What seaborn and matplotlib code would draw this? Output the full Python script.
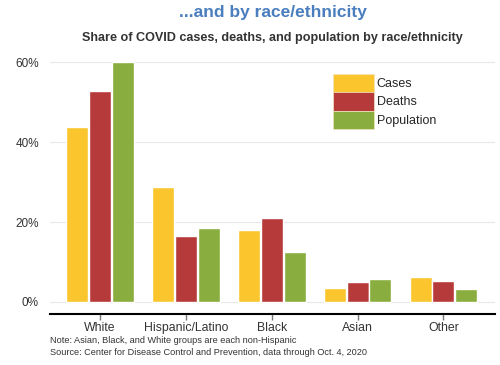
import numpy as np
import pandas as pd
import matplotlib
matplotlib.use("Agg")
import matplotlib.pyplot as plt
import seaborn as sns

#DATA
groups = ["White", "Hispanic/Latino", "Black", "Asian", "Other"]
measures = ["Cases", "Deaths", "Population"]
cases = [43.8, 28.8, 18.0, 3.5, 6.3]
deaths = [52.8, 16.5, 21.0, 5.0, 5.3]
population = [60.0, 18.5, 12.5, 5.8, 3.3]
yticks = [0, 20, 40, 60]
ytick_labels = ["0%", "20%", "40%", "60%"]

df = pd.DataFrame({
    "group": groups * 3,
    "measure": ["Cases"] * 5 + ["Deaths"] * 5 + ["Population"] * 5,
    "share": cases + deaths + population,
})

palette = {"Cases": "#FBC52E", "Deaths": "#B73A3A", "Population": "#8AAD3F"}

sns.set_style("white", {"xtick.bottom": True})
plt.rcParams['font.family'] = ['Liberation Sans', 'DejaVu Sans']
plt.rcParams['xtick.major.size'] = 4

fig = plt.figure(figsize=(5, 3.65), dpi=100)
ax = fig.add_axes([0.1, 0.14, 0.89, 0.70])

sns.barplot(data=df, x="group", y="share", hue="measure", order=groups,
            hue_order=measures, palette=palette, width=0.8, gap=0.04,
            saturation=1, ax=ax, legend=True)

ax.set_ylim(-3, 61)
ax.set_xlim(-0.58, 4.6)
ax.set_yticks(yticks)
ax.set_yticklabels(ytick_labels)
ax.yaxis.grid(True, color="#e8e8e8", linewidth=0.8)
ax.set_axisbelow(True)
for s in ["left", "right", "top"]:
    ax.spines[s].set_visible(False)
ax.spines["bottom"].set_color("black")
ax.spines["bottom"].set_linewidth(1.5)
ax.tick_params(axis="y", length=0, labelsize=8.5, labelcolor="#333333", pad=8)
ax.tick_params(axis="x", bottom=True, direction="out", length=4, width=1,
               color="#777777", labelsize=8.8, labelcolor="#333333", pad=2)
ax.set_xlabel("")
ax.set_ylabel("")

leg = ax.legend(loc="upper left", bbox_to_anchor=(0.622, 0.965), frameon=False,
                fontsize=9, handlelength=3.3, handleheight=1.9,
                handletextpad=0.2, labelspacing=0.0, borderpad=0)
for p in leg.get_patches():
    p.set_edgecolor("#f3e3c0")
    p.set_linewidth(0.5)

fig.text(0.545, 0.965, "...and by race/ethnicity", ha="center", va="center",
         fontsize=12.5, fontweight="bold", color="#4A7EBF")
fig.text(0.545, 0.895, "Share of COVID cases, deaths, and population by race/ethnicity",
         ha="center", va="center", fontsize=9.1, fontweight="bold", color="#333333")
fig.text(0.1, 0.066, "Note: Asian, Black, and White groups are each non-Hispanic",
         ha="left", va="center", fontsize=6.6, color="#333333")
fig.text(0.1, 0.033, "Source: Center for Disease Control and Prevention, data through Oct. 4, 2020",
         ha="left", va="center", fontsize=6.6, color="#333333")

fig.savefig("out.png", dpi=100)
